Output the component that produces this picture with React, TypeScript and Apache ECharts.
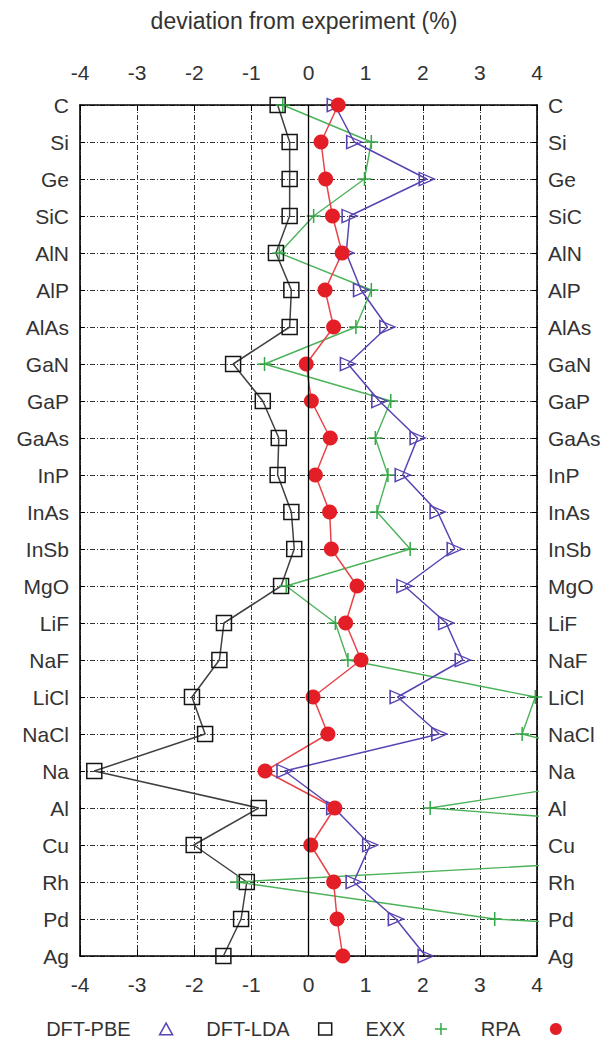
import React, { useEffect, useRef } from 'react';
import * as echarts from 'echarts';

const categories = ['C', 'Si', 'Ge', 'SiC', 'AlN', 'AlP', 'AlAs', 'GaN', 'GaP', 'GaAs', 'InP', 'InAs', 'InSb', 'MgO', 'LiF', 'NaF', 'LiCl', 'NaCl', 'Na', 'Al', 'Cu', 'Rh', 'Pd', 'Ag'];

const dftPbe = [0.46, 0.8, 2.07, 0.72, 0.66, 0.92, 1.38, 0.69, 1.24, 1.91, 1.65, 2.26, 2.56, 1.68, 2.41, 2.7, 1.56, 2.29, -0.42, 0.45, 1.08, 0.79, 1.53, 2.05];
const dftLda = [-0.54, -0.33, -0.33, -0.33, -0.57, -0.3, -0.33, -1.32, -0.8, -0.52, -0.54, -0.3, -0.25, -0.48, -1.48, -1.56, -2.04, -1.81, -3.75, -0.87, -2.01, -1.08, -1.18, -1.49];
const exx = [-0.45, 1.1, 0.98, 0.09, -0.51, 1.1, 0.83, -0.77, 1.44, 1.17, 1.39, 1.2, 1.78, -0.39, 0.47, 0.69, 3.97, 3.74, 6.3, 2.13, 10.6, -1.25, 3.26, 15];
const rpa = [0.52, 0.22, 0.3, 0.42, 0.59, 0.29, 0.44, -0.04, 0.05, 0.38, 0.12, 0.37, 0.4, 0.85, 0.65, 0.92, 0.08, 0.34, -0.76, 0.46, 0.04, 0.44, 0.5, 0.6];

const xMin = -4;
const xMax = 4;
const xStep = 1;

const FONT = "'Liberation Sans', Arial, Helvetica, sans-serif";
const PURPLE = '#5a43b3';
const BLACK = '#151515';
const GREEN = '#34a845';
const RED = '#e41e26';
const CLEAR = 'rgba(0,0,0,0)';

const TRI_RIGHT = 'path://M0,0L10,5L0,10Z';
const TRI_UP = 'path://M5,0L10,9L0,9Z';
const PLUS = 'path://M5,0L5,10M0,5L10,5';

export default function App() {
  const ref = useRef<HTMLDivElement>(null);

  useEffect(() => {
    document.body.style.margin = '0';
    const chart = echarts.init(ref.current as HTMLDivElement, null, { renderer: 'svg' });

    const gridLine = { show: true, lineStyle: { color: '#333', width: 1, type: [5, 2, 1, 2] } };
    const border = { show: true, onZero: false, lineStyle: { color: '#000', width: 1.6 } };
    const labelStyle = { fontSize: 21, color: '#333', fontFamily: FONT };

    const xAxisBase = {
      type: 'value',
      min: xMin,
      max: xMax,
      interval: xStep,
      axisLine: border,
      axisTick: { show: true, inside: true, length: 6, lineStyle: { color: '#000', width: 1 } },
    };
    const yAxisBase = {
      type: 'category',
      data: categories,
      inverse: true,
      boundaryGap: false,
      axisLine: border,
      axisTick: { show: true, inside: true, length: 5, lineStyle: { color: '#000', width: 1 } },
    };

    const option = {
      animation: false,
      backgroundColor: '#fff',
      title: {
        text: 'deviation from experiment (%)',
        left: 'center',
        top: 9,
        padding: 0,
        textStyle: { fontSize: 23, fontWeight: 'normal', color: '#333', fontFamily: FONT },
      },
      legend: {
        left: 'center',
        top: 1014,
        align: 'right',
        itemWidth: 13,
        itemHeight: 12,
        itemGap: 33,
        textStyle: { fontSize: 20, color: '#333', fontFamily: FONT, padding: [0, 24, 0, 0] },
        data: [
          { name: 'DFT-PBE', icon: TRI_UP, itemStyle: { color: CLEAR, borderColor: PURPLE, borderWidth: 1.5 } },
          { name: 'DFT-LDA', icon: 'rect', itemStyle: { color: CLEAR, borderColor: BLACK, borderWidth: 1.5 } },
          { name: 'EXX', icon: PLUS, itemStyle: { color: CLEAR, borderColor: GREEN, borderWidth: 1.5 } },
          { name: 'RPA', icon: 'circle', itemStyle: { color: RED, borderWidth: 0 } },
        ],
      },
      grid: { left: 80, right: 71, top: 105, bottom: 87, containLabel: false },
      xAxis: [
        { ...xAxisBase, position: 'bottom', axisLabel: { ...labelStyle, margin: 18 }, splitLine: gridLine },
        { ...xAxisBase, position: 'top', axisLabel: { ...labelStyle, margin: 22 }, splitLine: { show: false } },
      ],
      yAxis: [
        { ...yAxisBase, position: 'left', axisLabel: { ...labelStyle, margin: 11 }, splitLine: gridLine },
        { ...yAxisBase, position: 'right', axisLabel: { ...labelStyle, margin: 11 }, splitLine: { show: false } },
      ],
      series: [
        {
          name: 'DFT-LDA',
          type: 'line',
          data: dftLda,
          symbol: 'rect',
          symbolSize: 15,
          itemStyle: { color: CLEAR, borderColor: BLACK, borderWidth: 1.5 },
          lineStyle: { color: '#404040', width: 1.5 },
          markLine: {
            silent: true,
            symbol: ['none', 'none'],
            label: { show: false },
            lineStyle: { color: '#000', type: 'solid', width: 1.3 },
            data: [{ xAxis: 0 }],
          },
        },
        {
          name: 'EXX',
          type: 'line',
          data: exx,
          symbol: PLUS,
          symbolSize: 14,
          itemStyle: { color: CLEAR, borderColor: GREEN, borderWidth: 1.5 },
          lineStyle: { color: '#4cb35a', width: 1.4 },
        },
        {
          name: 'DFT-PBE',
          type: 'line',
          data: dftPbe,
          symbol: TRI_RIGHT,
          symbolSize: [15, 13],
          itemStyle: { color: CLEAR, borderColor: PURPLE, borderWidth: 1.5 },
          lineStyle: { color: PURPLE, width: 1.5 },
        },
        {
          name: 'RPA',
          type: 'line',
          data: rpa,
          symbol: 'circle',
          symbolSize: 15,
          itemStyle: { color: RED },
          lineStyle: { color: '#e8454a', width: 1.5 },
        },
      ],
    };

    chart.setOption(option as any);
    return () => chart.dispose();
  }, []);

  return <div ref={ref} style={{ width: 608, height: 1043 }} />;
}
